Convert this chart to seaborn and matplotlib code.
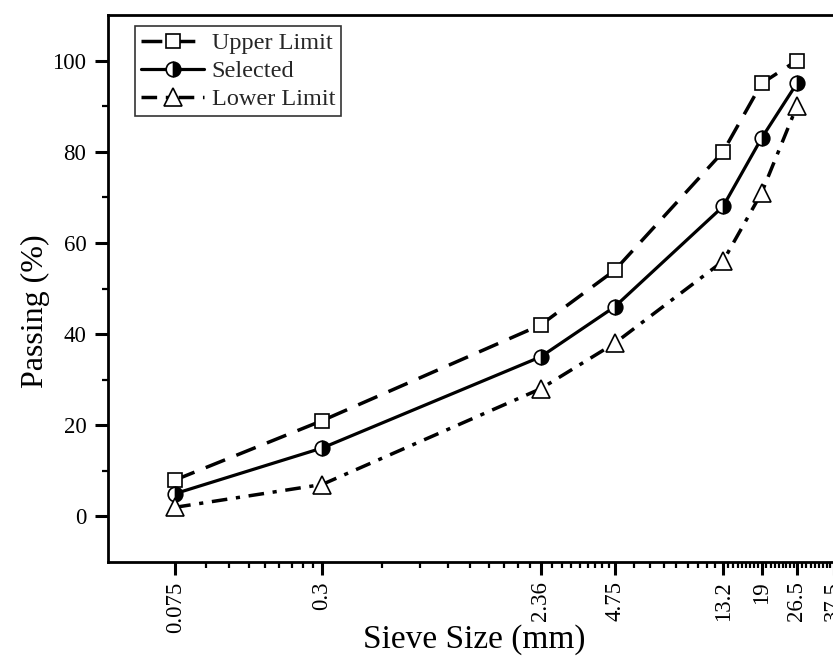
import numpy as np
import pandas as pd
import matplotlib
matplotlib.use("Agg")
import matplotlib.pyplot as plt
import seaborn as sns
from matplotlib.ticker import FixedLocator, FixedFormatter, NullFormatter

sieve = [0.075, 0.3, 2.36, 4.75, 13.2, 19, 26.5]
upper = [8, 21, 42, 54, 80, 95, 100]
selected = [5, 15, 35, 46, 68, 83, 95]
lower = [2, 7, 28, 38, 56, 71, 90]
tick_vals = [0.075, 0.3, 2.36, 4.75, 13.2, 19, 26.5, 37.5]
tick_labels = ["0.075", "0.3", "2.36", "4.75", "13.2", "19", "26.5", "37.5"]

sns.set_theme(style="white")
plt.rcParams['font.family'] = ['Liberation Serif', 'DejaVu Serif']

fig = plt.figure(figsize=(8.33, 6.6), dpi=100)
xmin, xmax = 0.0398, 50.0
left_px, top_px, bottom_px = 108, 15, 562
ppd = 244.0
width_px = ppd * np.log10(xmax / xmin)
height_px = bottom_px - top_px
ax = fig.add_axes([left_px / 833, 1 - bottom_px / 660, width_px / 833, height_px / 660])

df = pd.DataFrame({"sieve": sieve, "upper": upper, "selected": selected, "lower": lower})

sns.lineplot(data=df, x="sieve", y="upper", ax=ax, color="black", lw=2.5,
             linestyle=(0, (6, 3.5)), marker="s", markersize=10,
             markerfacecolor="white", markeredgecolor="black", markeredgewidth=1.2,
             label="Upper Limit")
sns.lineplot(data=df, x="sieve", y="selected", ax=ax, color="black", lw=2.3,
             marker="o", markersize=10.5, fillstyle="right",
             markerfacecolor="black", markerfacecoloralt="white",
             markeredgecolor="black", markeredgewidth=1.2, label="Selected")
sns.lineplot(data=df, x="sieve", y="lower", ax=ax, color="black", lw=2.5,
             linestyle=(0, (4.5, 2.5, 1.2, 2.5)), marker="^", markersize=12.5,
             markerfacecolor="white", markeredgecolor="black", markeredgewidth=1.2,
             label="Lower Limit")

ax.set_xscale("log")
ax.set_xlim(xmin, xmax)
ax.set_ylim(-10, 110)

ax.xaxis.set_major_locator(FixedLocator(tick_vals))
ax.xaxis.set_major_formatter(FixedFormatter(tick_labels))
minor = []
for a, b in zip(tick_vals[:-1], tick_vals[1:]):
    minor.extend(np.linspace(a, b, 10)[1:-1])
ax.xaxis.set_minor_locator(FixedLocator(minor))
ax.xaxis.set_minor_formatter(NullFormatter())

ax.set_yticks([0, 20, 40, 60, 80, 100])
ax.set_yticks([10, 30, 50, 70, 90], minor=True)

ax.tick_params(axis="both", which="major", direction="out", length=9.5, width=2.2,
               color="black", labelsize=16.5, labelcolor="black", bottom=True, left=True)
ax.tick_params(axis="both", which="minor", direction="out", length=4, width=1.6,
               color="black", bottom=True, left=True)
ax.tick_params(axis="x", which="major", labelrotation=90, pad=4.5)
ax.tick_params(axis="y", which="major", pad=6)

for s in ax.spines.values():
    s.set_visible(True)
    s.set_color("black")
    s.set_linewidth(2)

ax.set_xlabel("Sieve Size (mm)", fontsize=24, color="black")
ax.set_ylabel("Passing (%)", fontsize=23, color="black")
ax.xaxis.set_label_coords((474 - left_px) / width_px, (bottom_px - 624) / height_px)
ax.yaxis.set_label_coords((50 - left_px) / width_px, (bottom_px - 311) / height_px)

leg = ax.legend(loc="upper left",
                bbox_to_anchor=((135 - left_px) / width_px, 1 - (26 - top_px) / height_px),
                frameon=True, fontsize=17.5, handlelength=2.6, handletextpad=0.3,
                borderpad=0.25, labelspacing=0.25, borderaxespad=0, fancybox=False)
leg.get_frame().set_edgecolor("black")
leg.get_frame().set_linewidth(1.2)

fig.savefig("out.png", dpi=100)
